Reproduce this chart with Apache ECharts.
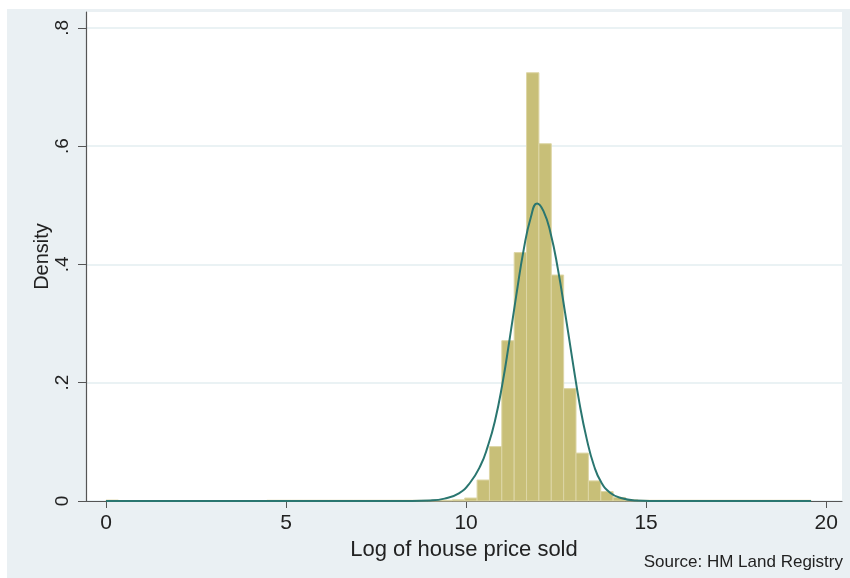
<!DOCTYPE html>
<html>
<head>
<meta charset="utf-8">
<script src="https://cdn.jsdelivr.net/npm/echarts@6/dist/echarts.min.js"></script>
<style>
  html, body { margin: 0; padding: 0; background: #ffffff; }
  #chart { width: 850px; height: 578px; }
</style>
</head>
<body>
<div id="chart"></div>
<script>
// histogram bins: start at 0, fixed width
const binStart = 0;
const binWidth = 0.3435;
const density = [
  0.0015, 0, 0, 0, 0, 0, 0, 0, 0, 0,
  0, 0, 0, 0.0012, 0.0012, 0.0012, 0.0012, 0.0012, 0.0012, 0.0012,
  0.0012, 0.0012, 0.0012, 0.0012, 0.0012, 0.0012, 0.0012, 0.0012, 0.002, 0.005,
  0.0355, 0.092, 0.271, 0.420, 0.724, 0.604, 0.382, 0.190, 0.081, 0.034,
  0.016, 0.006, 0.002, 0.0012, 0.0012, 0.0012, 0.0012, 0.0012, 0.0012, 0.0012,
  0.0012, 0.0012, 0.0012, 0.0012, 0.0012, 0.0012, 0.0012
];

// normal density curve
const curveX = [0, 8.0, 9.0, 9.4, 9.8, 10.1, 10.4, 10.6, 10.8, 11.0,
  11.2, 11.4, 11.6, 11.8, 11.97, 12.15, 12.35, 12.55, 12.75, 12.95,
  13.15, 13.35, 13.55, 13.75, 14.0, 14.3, 14.7, 15.5, 19.58];
const curveY = [0, 0, 0.001, 0.004, 0.013, 0.030, 0.060, 0.092, 0.135, 0.195,
  0.270, 0.350, 0.425, 0.480, 0.503, 0.490, 0.452, 0.392, 0.318, 0.240,
  0.165, 0.105, 0.060, 0.032, 0.014, 0.005, 0.001, 0, 0];

const xTicks = [0, 5, 10, 15, 20];
const yTicks = [0, 0.2, 0.4, 0.6, 0.8];

const chart = echarts.init(document.getElementById('chart'));

const bars = density.map((d, i) => [binStart + i * binWidth, binStart + (i + 1) * binWidth, d]);
const curve = curveX.map((x, i) => [x, curveY[i]]);

const font = '"Liberation Sans", Arial, Helvetica, sans-serif';

const option = {
  backgroundColor: '#ffffff',
  animation: false,
  graphic: [
    {
      type: 'rect',
      z: -10,
      shape: { x: 7, y: 9, width: 843, height: 569 },
      style: { fill: '#eaf0f3' }
    },
    {
      type: 'text',
      right: 7,
      top: 554,
      style: {
        text: 'Source: HM Land Registry',
        font: '17px ' + font,
        fill: '#222'
      }
    }
  ],
  grid: {
    left: 86,
    right: 8,
    top: 12,
    bottom: 77,
    show: true,
    backgroundColor: '#ffffff',
    borderWidth: 0
  },
  xAxis: {
    type: 'value',
    min: -0.556,
    max: 20.44,
    name: 'Log of house price sold',
    nameLocation: 'middle',
    nameGap: 37,
    nameTextStyle: { fontFamily: font, fontSize: 22, color: '#222' },
    axisLine: { show: true, onZero: false, lineStyle: { color: '#555', width: 1.2 } },
    axisTick: { show: true, length: 7, customValues: xTicks, lineStyle: { color: '#555' } },
    axisLabel: { customValues: xTicks, fontFamily: font, fontSize: 21, color: '#222', margin: 12 },
    splitLine: { show: false }
  },
  yAxis: {
    type: 'value',
    min: 0,
    max: 0.8267,
    interval: 0.2,
    name: 'Density',
    nameLocation: 'middle',
    nameGap: 34,
    nameMoveOverlap: false,
    nameTextStyle: { fontFamily: font, fontSize: 20, color: '#222' },
    axisLine: { show: true, onZero: false, lineStyle: { color: '#555', width: 1.2 } },
    axisTick: { show: true, length: 8, customValues: yTicks, lineStyle: { color: '#555' } },
    axisLabel: {
      customValues: yTicks,
      rotate: 90,
      fontFamily: font,
      fontSize: 19,
      color: '#222',
      margin: 14,
      formatter: v => (v === 0 ? '0' : (Math.round(v * 10) / 10).toString().replace(/^0/, ''))
    },
    splitLine: { show: true, lineStyle: { color: '#e3eef0', width: 1.5 } }
  },
  series: [
    {
      type: 'custom',
      data: bars,
      encode: { x: [0, 1], y: 2 },
      renderItem: (params, api) => {
        const p0 = api.coord([api.value(0), api.value(2)]);
        const p1 = api.coord([api.value(1), 0]);
        return {
          type: 'rect',
          shape: { x: p0[0], y: p0[1], width: p1[0] - p0[0], height: p1[1] - p0[1] },
          style: { fill: '#c8bf78', stroke: '#ddd6a6', lineWidth: 1 }
        };
      }
    },
    {
      type: 'line',
      data: curve,
      smooth: 0.5,
      symbol: 'none',
      lineStyle: { color: '#2a7670', width: 2 },
      z: 5
    }
  ]
};

chart.setOption(option);
window.addEventListener('resize', () => chart.resize());
</script>
</body>
</html>
